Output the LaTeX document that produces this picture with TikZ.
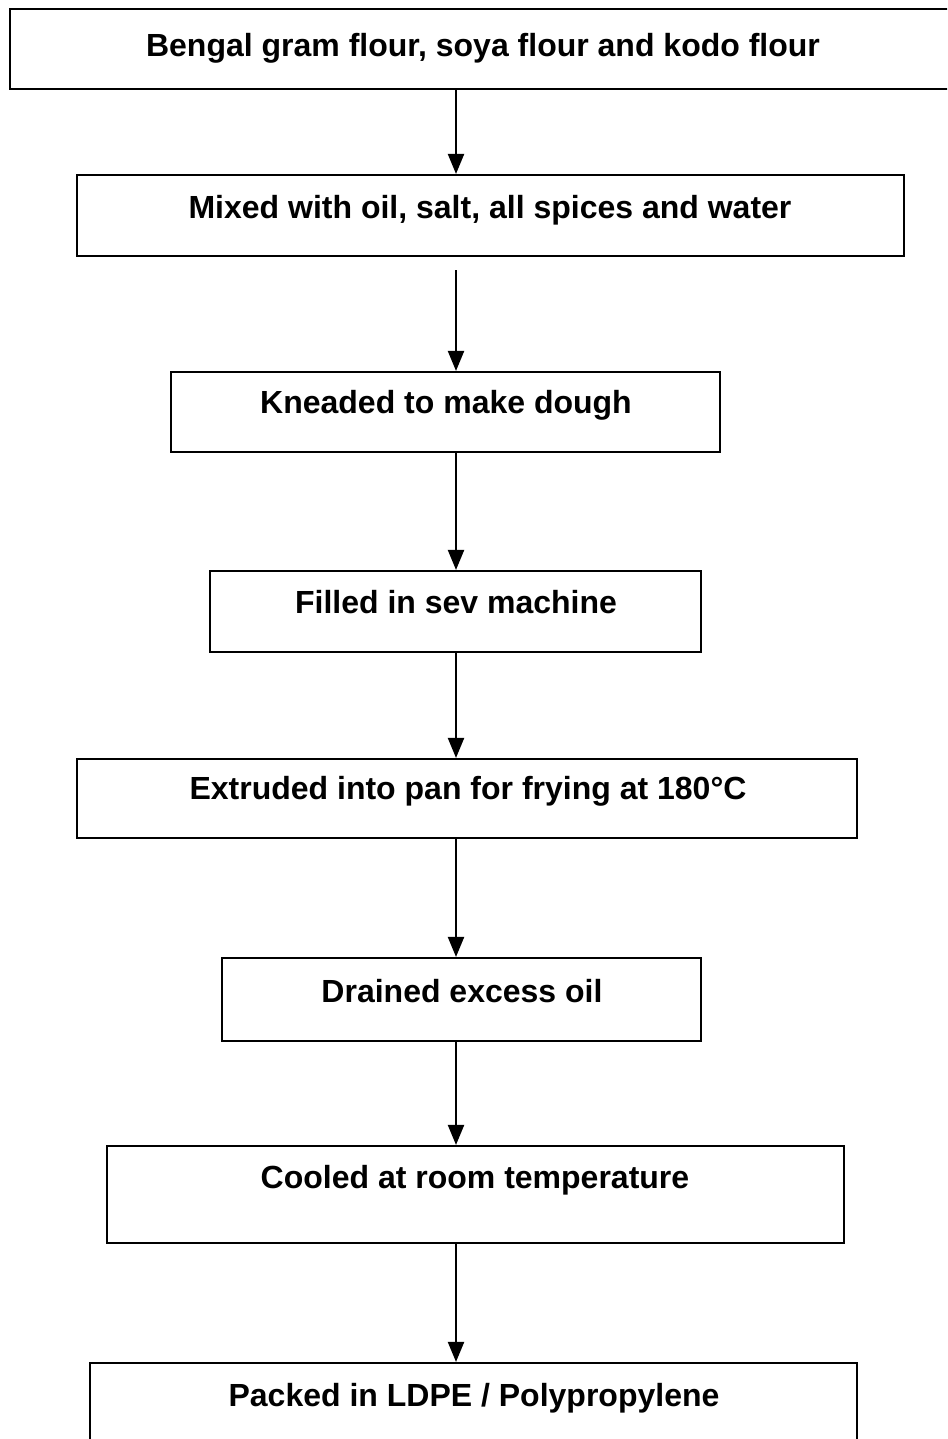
\documentclass[tikz,border=0pt]{standalone}
\usepackage{fontspec}
\setmainfont{Liberation Sans}
\usetikzlibrary{arrows.meta, fit}

\begin{document}
\begin{tikzpicture}[x=0.375pt, y=-0.375pt, >={Triangle[length=7.5pt, width=6pt]},
    stepbox/.style={draw, line width=0.8pt, inner sep=0pt},
    steptext/.style={font=\fontsize{12}{14}\bfseries\selectfont, anchor=base, inner sep=0pt},
    flow/.style={->, line width=0.8pt}]
  \useasboundingbox (0,0) rectangle (947,1439);
  \clip (0,0) rectangle (947,1439);
  \coordinate (axis) at (456,0);

  % boxes
  \node[stepbox, fit={(10,9) (990,89)}] (flour) {};
  \node[stepbox, fit={(77,175) (904,256)}] (mix) {};
  \node[stepbox, fit={(171,372) (720,452)}] (knead) {};
  \node[stepbox, fit={(210,571) (701,652)}] (fill) {};
  \node[stepbox, fit={(77,759) (857,838)}] (extrude) {};
  \node[stepbox, fit={(222,958) (701,1041)}] (drain) {};
  \node[stepbox, fit={(107,1146) (844,1243)}] (cool) {};
  \node[stepbox, fit={(90,1363) (857,1490)}] (pack) {};

  % texts
  \node[steptext] (flour-t) at (483,56) {Bengal gram flour, soya flour and kodo flour};
  \node[steptext] (mix-t) at (490,218) {Mixed with oil, salt, all spices and water};
  \node[steptext] (knead-t) at (446,413) {Kneaded to make dough};
  \node[steptext] (fill-t) at (456,613) {Filled in sev machine};
  \node[steptext] (extrude-t) at (468,799) {Extruded into pan for frying at 180°C};
  \node[steptext] (drain-t) at (462,1002) {Drained excess oil};
  \node[steptext] (cool-t) at (475,1188) {Cooled at room temperature};
  \node[steptext] (pack-t) at (474,1406) {Packed in LDPE / Polypropylene};

  \coordinate (mix-gap) at (456,270);
  \path[flow]
    (flour.south -| axis) edge (mix.north -| axis)
    (mix-gap) edge (knead.north -| axis)
    (knead.south -| axis) edge (fill.north -| axis)
    (fill.south -| axis) edge (extrude.north -| axis)
    (extrude.south -| axis) edge (drain.north -| axis)
    (drain.south -| axis) edge (cool.north -| axis)
    (cool.south -| axis) edge (pack.north -| axis)
  ;
\end{tikzpicture}
\end{document}
